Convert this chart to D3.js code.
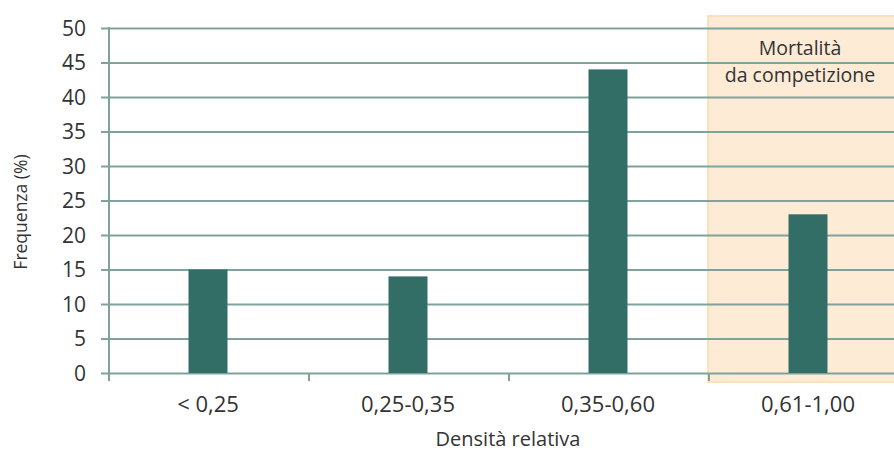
<!DOCTYPE html>
<html><head><meta charset="utf-8">
<script src="https://cdn.jsdelivr.net/npm/d3@7"></script>
<style>
body{margin:0;background:#fff;}
text{font-family:"Open Sans",sans-serif;fill:#333;}
</style></head>
<body>
<svg id="c" width="894" height="451"></svg>
<script>
const categories = ["< 0,25", "0,25-0,35", "0,35-0,60", "0,61-1,00"];
const values = [15, 14, 44, 23];
const yTicks = [0,5,10,15,20,25,30,35,40,45,50];
const yTitle = "Frequenza (%)";
const xTitle = "Densità relativa";
const noteLines = ["Mortalità", "da competizione"];
const highlightCategory = "0,61-1,00";

(function(){
const svg = d3.select("#c");
const mLeft = 109, mBottom = 373, mTop = 28, mRight = 909;
const x = d3.scaleBand().domain(categories).range([mLeft, mRight]).paddingInner(0).paddingOuter(0);
const y = d3.scaleLinear().domain([0,50]).range([mBottom, mTop]);
const gridColor = "#7fa39c";

// highlight region
const hx = x(highlightCategory) - 1;
svg.append("rect").attr("x", hx).attr("y", 16).attr("width", 894 - hx + 5).attr("height", 366)
  .attr("fill", "#fdebd6").attr("stroke", "#fbe1bb").attr("stroke-width", 2);

// gridlines
const ga = svg.append("g").attr("transform", `translate(${mLeft},0)`)
  .call(d3.axisLeft(y).tickValues(yTicks).tickSize(-(894-mLeft)).tickFormat(""));
ga.select(".domain").remove();
ga.selectAll("line").attr("stroke", gridColor).attr("stroke-width", 2).attr("x1", -8);

// y tick labels
svg.selectAll("text.yt").data(yTicks).join("text").attr("class","yt")
  .attr("x", 86).attr("y", d => y(d)).attr("dy", "0.36em").attr("text-anchor","end")
  .attr("font-size", 21).text(d => d);

// y axis line
svg.append("line").attr("x1", mLeft).attr("x2", mLeft).attr("y1", mTop - 1).attr("y2", 381)
  .attr("stroke", gridColor).attr("stroke-width", 2);

// x ticks
svg.selectAll("line.xt").data(categories.slice(1)).join("line").attr("class","xt")
  .attr("x1", d => x(d)).attr("x2", d => x(d)).attr("y1", mBottom).attr("y2", 381)
  .attr("stroke", gridColor).attr("stroke-width", 2);

// bars
const bw = 39;
svg.selectAll("rect.bar").data(values).join("rect").attr("class","bar")
  .attr("x", (d,i) => x(categories[i]) + x.bandwidth()/2 - bw/2 - 1)
  .attr("y", d => y(d)).attr("width", bw).attr("height", d => mBottom - y(d))
  .attr("fill", "#336e66");

// x labels
svg.selectAll("text.xl").data(categories).join("text").attr("class","xl")
  .attr("x", d => x(d) + x.bandwidth()/2 - 1).attr("y", 412).attr("text-anchor","middle")
  .attr("font-size", 22).text(d => d);

// titles
svg.append("text").attr("x", 508).attr("y", 446).attr("text-anchor","middle")
  .attr("font-size", 20).text(xTitle);
svg.append("text").attr("transform", "translate(27,212) rotate(-90)").attr("text-anchor","middle")
  .attr("font-size", 17.5).text(yTitle);

// note
svg.selectAll("text.note").data(noteLines).join("text").attr("class","note")
  .attr("x", 800).attr("y", (d,i) => 55 + i*27).attr("text-anchor","middle")
  .attr("font-size", 19.5).text(d => d);
})();
</script>
</body></html>
